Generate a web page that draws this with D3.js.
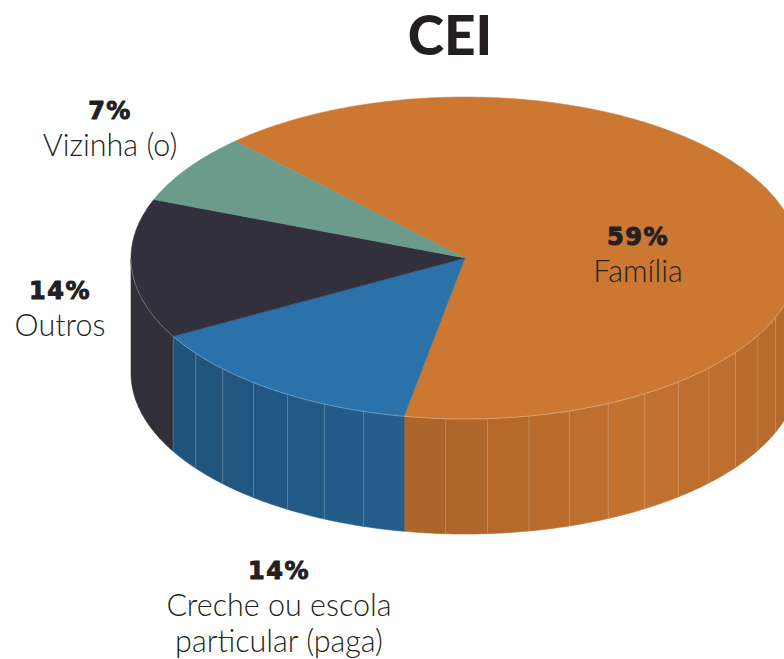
<!DOCTYPE html>
<html>
<head>
<meta charset="utf-8">
<script src="https://cdn.jsdelivr.net/npm/d3@7"></script>
<style>
  body { margin: 0; background: #fff; }
  svg { display: block; }
</style>
</head>
<body>
<div id="chart"></div>
<script>
//Chart data
var categories = ["Família", "Creche ou escola\nparticular (paga)", "Outros", "Vizinha (o)"];
var pctLabels = ["59%", "14%", "14%", "7%"];
var shares = [65, 14, 14, 7]; // share of the disc as drawn
var colors = ["#cd7832", "#2b72aa", "#32303c", "#6b9b8b"];

//Dimensions
var width = 784, height = 659;
var cx = 465, cy = 258, rx = 334, ry = 161, depth = 115;

var svg = d3.select("#chart")
    .append("svg")
    .attr("width", width)
    .attr("height", height);

//Title
svg.append("text")
    .attr("x", 450)
    .attr("y", 55)
    .attr("text-anchor", "middle")
    .style("font-family", "Lato, sans-serif")
    .style("font-weight", 900)
    .style("font-size", "55px")
    .style("fill", "#231f20")
    .text("CEI");

var pie = d3.pie()
    .sort(null)
    .value(function(d) { return d; })
    .startAngle(-43.5 * Math.PI / 180)
    .endAngle(-43.5 * Math.PI / 180 + 2 * Math.PI);

var arcs = pie(shares);

function px(a) { return cx + rx * Math.sin(a); }
function py(a, dz) { return cy - ry * Math.cos(a) + (dz || 0); }

function samples(a0, a1) {
    var n = Math.max(2, Math.ceil(Math.abs(a1 - a0) / 0.01));
    return d3.range(n + 1).map(function(i) { return a0 + (a1 - a0) * i / n; });
}

var line = d3.line();

//Shading of the side wall by angle (degrees)
var shade = d3.scaleLinear()
    .domain([90, 150, 190, 240, 270])
    .range([0.85, 0.95, 0.83, 0.72, 0.7])
    .clamp(true);

function darker(c, f) {
    var r = d3.rgb(c);
    return d3.rgb(r.r * f, r.g * f, r.b * f).formatHex();
}

//Side walls (front half only)
var front0 = Math.PI / 2, front1 = 3 * Math.PI / 2;
var sides = svg.append("g");
arcs.forEach(function(d, i) {
    var a0 = Math.max(d.startAngle, front0);
    var a1 = Math.min(d.endAngle, front1);
    if (a1 <= a0) return;
    var step = 7 * Math.PI / 180;
    var n = i === 2 ? 1 : Math.max(1, Math.round((a1 - a0) / step));
    for (var k = 0; k < n; k++) {
        var b0 = a0 + (a1 - a0) * k / n;
        var b1 = a0 + (a1 - a0) * (k + 1) / n;
        var top = samples(b0, b1).map(function(a) { return [px(a), py(a)]; });
        var bot = samples(b1, b0).map(function(a) { return [px(a), py(a, depth)]; });
        var mid = (b0 + b1) / 2 * 180 / Math.PI;
        var f = i === 2 ? 0.97 : shade(mid);
        sides.append("path")
            .attr("d", line(top.concat(bot)) + "Z")
            .style("fill", darker(colors[i], f))
            .style("stroke", darker(colors[i], f))
            .style("stroke-width", 0.6);
        if (k > 0) {
            sides.append("line")
                .attr("x1", px(b0)).attr("y1", py(b0))
                .attr("x2", px(b0)).attr("y2", py(b0, depth))
                .style("stroke", "#fff")
                .style("stroke-opacity", 0.2)
                .style("stroke-width", 1);
        }
    }
});

//Vertical edge between the blue and dark walls
var edgeA = arcs[1].endAngle;
sides.append("line")
    .attr("x1", px(edgeA)).attr("y1", py(edgeA))
    .attr("x2", px(edgeA)).attr("y2", py(edgeA, depth))
    .style("stroke", "#fff")
    .style("stroke-opacity", 0.3)
    .style("stroke-width", 0.8);

//Top faces
var tops = svg.append("g");
arcs.forEach(function(d, i) {
    var pts = [[cx, cy]].concat(samples(d.startAngle, d.endAngle).map(function(a) {
        return [px(a), py(a)];
    }));
    tops.append("path")
        .attr("d", line(pts) + "Z")
        .style("fill", colors[i])
        .style("stroke", colors[i])
        .style("stroke-width", 0.5);
});

//Rim highlight on the front edge
tops.append("path")
    .attr("d", line(samples(front0, front1).map(function(a) { return [px(a), py(a)]; })))
    .style("fill", "none")
    .style("stroke", "#fff")
    .style("stroke-opacity", 0.35)
    .style("stroke-width", 0.8);

//Labels
var labelPos = [[638, 245], [279, 579], [60, 299], [110, 119]];
var labels = svg.append("g")
    .selectAll("g")
    .data(arcs)
    .enter()
    .append("g")
    .attr("transform", function(d, i) {
        return "translate(" + labelPos[i][0] + "," + labelPos[i][1] + ")";
    });

labels.append("text")
    .attr("text-anchor", "middle")
    .style("font-family", "'DejaVu Sans', sans-serif")
    .style("font-weight", 700)
    .style("font-size", "24px")
    .style("letter-spacing", "1.5px")
    .style("fill", "#231f20")
    .style("stroke", "#231f20")
    .style("stroke-width", 1)
    .style("stroke-linejoin", "round")
    .text(function(d, i) { return pctLabels[i]; });

labels.each(function(d, i) {
    var g = d3.select(this);
    categories[i].split("\n").forEach(function(t, j) {
        g.append("text")
            .attr("text-anchor", "middle")
            .attr("y", 37 + j * 36)
            .style("font-family", "Lato, sans-serif")
            .style("font-weight", 300)
            .style("font-size", "30.5px")
            .style("fill", "#231f20")
            .text(t);
    });
});
</script>
</body>
</html>
